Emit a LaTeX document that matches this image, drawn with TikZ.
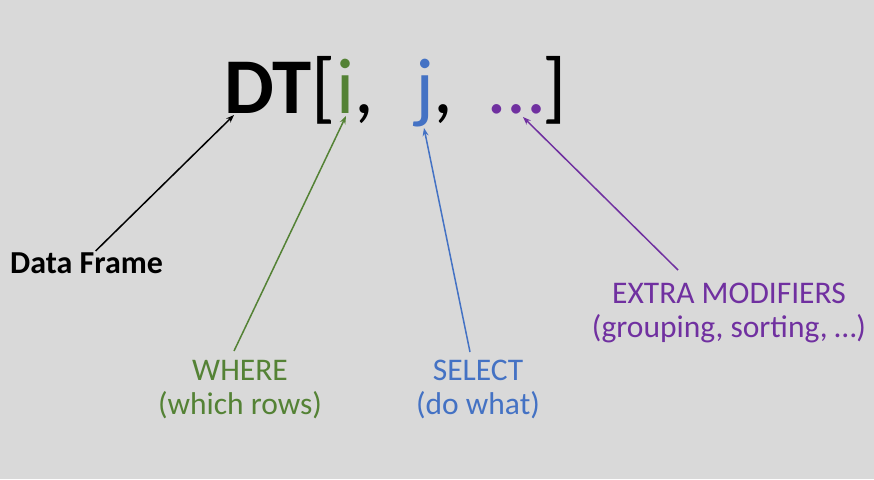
\documentclass[tikz,border=0pt]{standalone}
\usepackage{fontspec}
\setmainfont{Carlito}
\usetikzlibrary{arrows.meta}
\definecolor{bg}{RGB}{217,217,217}
\definecolor{cgreen}{RGB}{84,130,53}
\definecolor{cblue}{RGB}{68,114,196}
\definecolor{cpurple}{RGB}{112,48,160}
\begin{document}
\begin{tikzpicture}[x=1pt,y=-1pt,
  lbl/.style={inner sep=0pt, align=center, font=\fontsize{31.5}{34}\selectfont},
  arr/.style={line width=1.5pt, -{Stealth[length=8pt,width=6pt]}}]
\fill[bg] (0,0) rectangle (874,479);
\useasboundingbox (0,0) rectangle (874,479);
\node[inner sep=0pt, anchor=base west, font=\fontsize{79}{90}\selectfont] (title) at (224,113)
  {\textbf{DT}[\textcolor{cgreen}{i},\hspace{41pt}\textcolor{cblue}{j},\hspace{36pt}\textcolor{cpurple}{…}\hspace{-2pt}]};
\node[inner sep=0pt, anchor=north west, font=\fontsize{32}{34}\selectfont\bfseries] (df) at (10,253) {Data Frame};
\node[lbl, text=cgreen, anchor=north] (where) at (240,360) {WHERE\\(which rows)};
\node[lbl, text=cblue, anchor=north] (select) at (478,360) {SELECT\\(do what)};
\node[lbl, text=cpurple, anchor=north] (extra) at (729,283) {EXTRA MODIFIERS\\(grouping, sorting, …)};
\coordinate (tD) at (234,115);
\coordinate (ti) at (346,116);
\coordinate (tj) at (424,128);
\coordinate (tdots) at (523,117);
\draw[arr, black] ([xshift=9pt,yshift=2pt]df.north) -- (tD);
\draw[arr, cgreen] ([xshift=-6pt,yshift=9pt]where.north) -- (ti);
\draw[arr, cblue] ([xshift=-8pt,yshift=8pt]select.north) -- (tj);
\draw[arr, cpurple] ([xshift=-51pt,yshift=13pt]extra.north) -- (tdots);
\end{tikzpicture}
\end{document}
